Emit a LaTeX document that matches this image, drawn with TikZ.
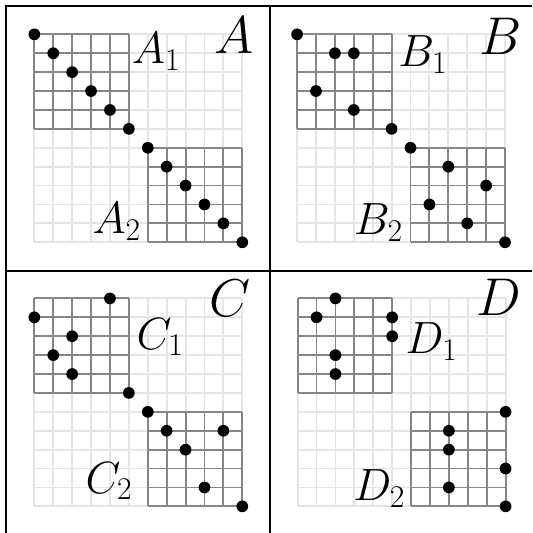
\RequirePackage{fix-cm}
\documentclass[tikz,border=0pt]{standalone}

\tikzset{
    lightgrid/.style={gray!20, line width=1.4pt},
    blockgrid/.style={gray!95, line width=1.4pt},
    biglabel/.style={inner sep=0pt, font=\fontsize{40}{48}\selectfont},
    sublabel/.style={inner sep=0pt, font=\fontsize{34}{41}\selectfont},
}

\begin{document}
\begin{tikzpicture}[x=0.5cm, y=0.5cm]
    \useasboundingbox (-1.817,1.817) rectangle (26.33,-26.38);

    % Draw the grids of the four panels (light full grid, two darker blocks)
    \foreach \px/\py in {0/0, 13.9/0, 0/-13.97, 13.93/-13.97}
        {
            \begin{scope}[shift={(\px,\py)}]
                \foreach \i in {0,...,11}
                    {
                        \draw[lightgrid] (\i,0) -- (\i,-11);
                        \draw[lightgrid] (0,-\i) -- (11,-\i);
                    }
                \foreach \i in {0,...,5}
                    {
                        \draw[blockgrid] (\i,0) -- (\i,-5);
                        \draw[blockgrid] (0,-\i) -- (5,-\i);
                        \draw[blockgrid] (\i+6,-6) -- (\i+6,-11);
                        \draw[blockgrid] (6,-\i-6) -- (11,-\i-6);
                    }
            \end{scope}
        }

    % Draw the panel frame
    \draw[line width=1.5pt] (-1.5,-26.38) -- (-1.5,1.5) -- (26.33,1.5);
    \draw[line width=1.5pt] (12.47,1.5) -- (12.47,-26.38);
    \draw[line width=1.5pt] (-1.5,-12.5) -- (26.33,-12.5);

    % Panel A: entries on the diagonal
    \foreach \x/\y in {0/0, 1/1, 2/2, 3/3, 4/4, 5/5, 6/6, 7/7, 8/8, 9/9, 10/10, 11/11}
        {
            \fill (\x,-\y) circle (0.31);
        }
    \node[biglabel, anchor=base east] (bigA) at (11.6,-1.0) {$A$};
    \node[sublabel, anchor=base west] (labA1) at (5.15,-1.53) {$A_1$};
    \node[sublabel, anchor=base east] (labA2) at (5.65,-10.56) {$A_2$};

    % Panel B
    \begin{scope}[shift={(13.9,0)}]
        \foreach \x/\y in {0/0, 2/1, 3/1, 1/3, 3/4, 5/5, 6/6, 8/7, 10/8, 7/9, 9/10, 11/11}
            {
                \fill (\x,-\y) circle (0.31);
            }
        \node[biglabel, anchor=base east] (bigB) at (11.9,-1.07) {$B$};
        \node[sublabel, anchor=base west] (labB1) at (5.35,-1.69) {$B_1$};
        \node[sublabel, anchor=base east] (labB2) at (5.6,-10.6) {$B_2$};
    \end{scope}

    % Panel C
    \begin{scope}[shift={(0,-13.97)}]
        \foreach \x/\y in {4/0, 0/1, 2/2, 1/3, 2/4, 5/5, 6/6, 7/7, 10/7, 8/8, 9/10, 11/11}
            {
                \fill (\x,-\y) circle (0.31);
            }
        \node[biglabel, anchor=base east] (bigC) at (11.45,-0.93) {$C$};
        \node[sublabel, anchor=base west] (labC1) at (5.4,-2.68) {$C_1$};
        \node[sublabel, anchor=base east] (labC2) at (5.2,-10.3) {$C_2$};
    \end{scope}

    % Panel D
    \begin{scope}[shift={(13.93,-13.97)}]
        \foreach \x/\y in {2/0, 1/1, 5/1, 5/2, 2/3, 2/4, 11/6, 8/7, 8/8, 11/9, 8/10, 11/11}
            {
                \fill (\x,-\y) circle (0.31);
            }
        \node[biglabel, anchor=base east] (bigD) at (11.85,-0.88) {$D$};
        \node[sublabel, anchor=base west] (labD1) at (5.7,-2.9) {$D_1$};
        \node[sublabel, anchor=base east] (labD2) at (5.7,-10.7) {$D_2$};
    \end{scope}

\end{tikzpicture}
\end{document}
